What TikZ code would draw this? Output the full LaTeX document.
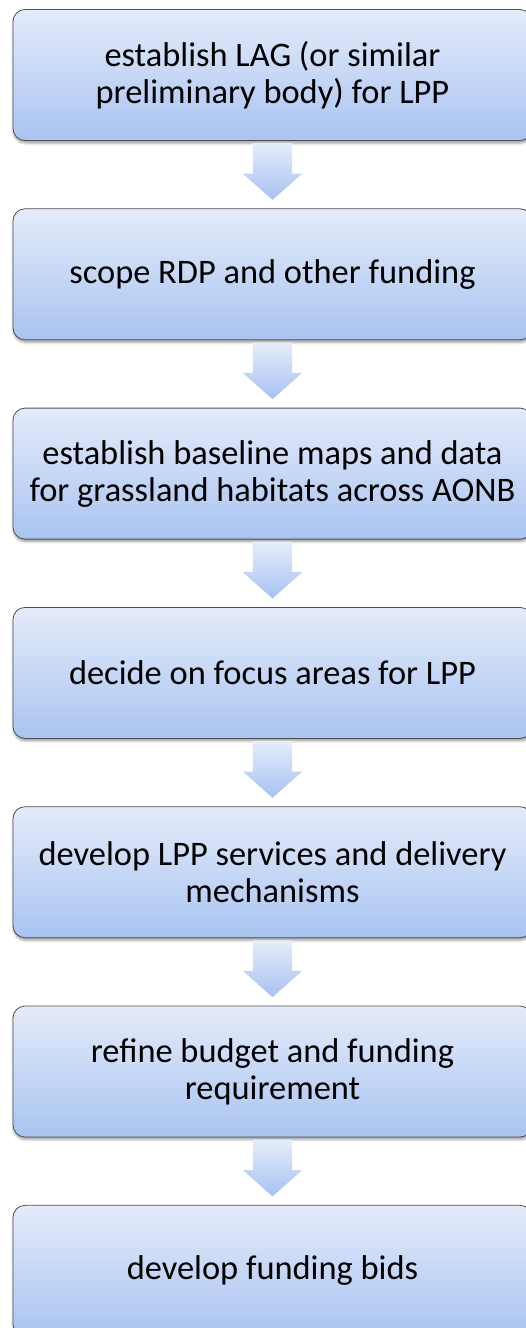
\documentclass[tikz,border=0pt]{standalone}
\usepackage{fontspec}
\setmainfont{Carlito}
\usetikzlibrary{positioning,calc,shapes.arrows,shadows.blur}
\definecolor{boxtop}{HTML}{E4EBFA}
\definecolor{boxbottom}{HTML}{A9C4F1}
\definecolor{boxline}{HTML}{505050}
\definecolor{arrowtop}{HTML}{E6EDFB}
\definecolor{arrowbottom}{HTML}{A6C1F1}

\begin{document}
\begin{tikzpicture}[x = 1pt, y = 1pt,
    stage/.style = {rectangle, rounded corners=12pt, draw=boxline, line width=.8pt,
      top color=boxtop, bottom color=boxbottom, minimum width=519pt, minimum height=131pt,
      align=center, font=\fontsize{34.4}{37}\selectfont,
      blur shadow={shadow xshift=.5pt, shadow yshift=-2.5pt, shadow blur radius=2.5pt}},
    downarrow/.style = {single arrow, shape border rotate=270, inner sep=19.5pt, outer sep=0pt,
      minimum height=50pt, single arrow head extend=10pt, single arrow tip angle=97,
      top color=arrowtop, bottom color=arrowbottom}]
        \useasboundingbox (0,0) rectangle (526,-1328);
        \node[stage] (s1) at (272.5,-75) {establish LAG (or similar\\preliminary body) for LPP};
        \node[stage, below=67.5pt of s1] (s2) {scope RDP and other funding};
        \node[stage, below=67.5pt of s2] (s3) {establish baseline maps and data\\for grassland habitats across AONB};
        \node[stage, below=67.5pt of s3] (s4) {decide on focus areas for LPP};
        \node[stage, below=67.5pt of s4] (s5) {develop LPP services and delivery\\mechanisms};
        \node[stage, below=67.5pt of s5] (s6) {refine budget and funding\\requirement};
        \node[stage, below=67.5pt of s6] (s7) {develop funding bids};
        \foreach \a/\b in {s1/s2, s2/s3, s3/s4, s4/s5, s5/s6, s6/s7}
          \node[downarrow, anchor=tip] (\a\b) at ([yshift=8.5pt]\b.north) {};
      \end{tikzpicture}
\end{document}
